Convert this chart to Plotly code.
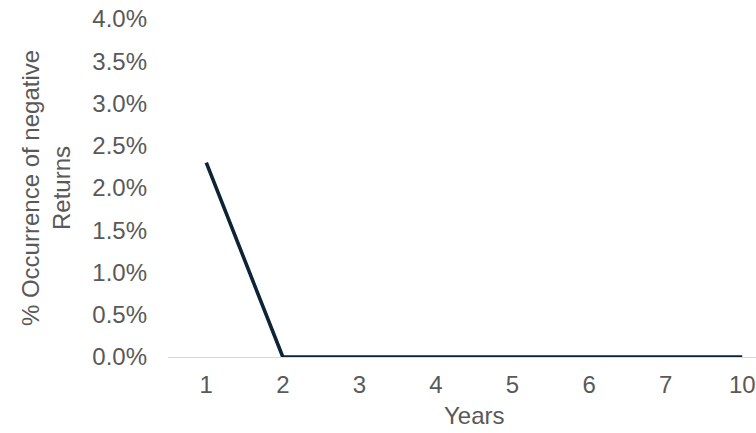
import plotly.graph_objects as go

# Holding period (years) and share of periods with a negative return (%)
years = ["1", "2", "3", "4", "5", "6", "7", "10"]
negative_pct = [2.3, 0.0, 0.0, 0.0, 0.0, 0.0, 0.0, 0.0]
y_ticks = [0, 0.5, 1.0, 1.5, 2.0, 2.5, 3.0, 3.5, 4.0]

FONT = "Liberation Sans, Arial, sans-serif"
GREY = "#595959"

fig = go.Figure(
    go.Scatter(
        x=years,
        y=negative_pct,
        mode="lines",
        line=dict(color="#0C2436", width=3.6),
        hoverinfo="skip",
    )
)

fig.update_layout(
    width=756,
    height=433,
    margin=dict(l=168, r=0, t=19, b=76),
    paper_bgcolor="white",
    plot_bgcolor="white",
    showlegend=False,
    font=dict(family=FONT, size=24, color=GREY),
)

fig.update_xaxes(
    type="category",
    range=[-0.5, 7.18],
    showgrid=False,
    zeroline=False,
    showline=True,
    linecolor="#D9D9D9",
    linewidth=1.3,
    ticks="",
    ticklabelstandoff=6,
    tickfont=dict(family=FONT, size=24, color=GREY),
)

fig.update_yaxes(
    range=[0, 4.0],
    tickvals=y_ticks,
    ticktext=[f"{v:.1f}%" for v in y_ticks],
    showgrid=False,
    zeroline=False,
    showline=False,
    ticks="",
    ticklabelstandoff=20,
    tickfont=dict(family=FONT, size=24, color=GREY),
    title=dict(
        text="% Occurrence of negative<br>Returns",
        font=dict(family=FONT, size=24, color=GREY),
        standoff=14,
    ),
)

# Axis title centred under the category band (axis continues past the right edge)
fig.add_annotation(
    x=3.5,
    xref="x",
    y=-0.172,
    yref="paper",
    text="Years",
    showarrow=False,
    yanchor="middle",
    font=dict(family=FONT, size=24, color=GREY),
)

fig.write_html("out.html")
